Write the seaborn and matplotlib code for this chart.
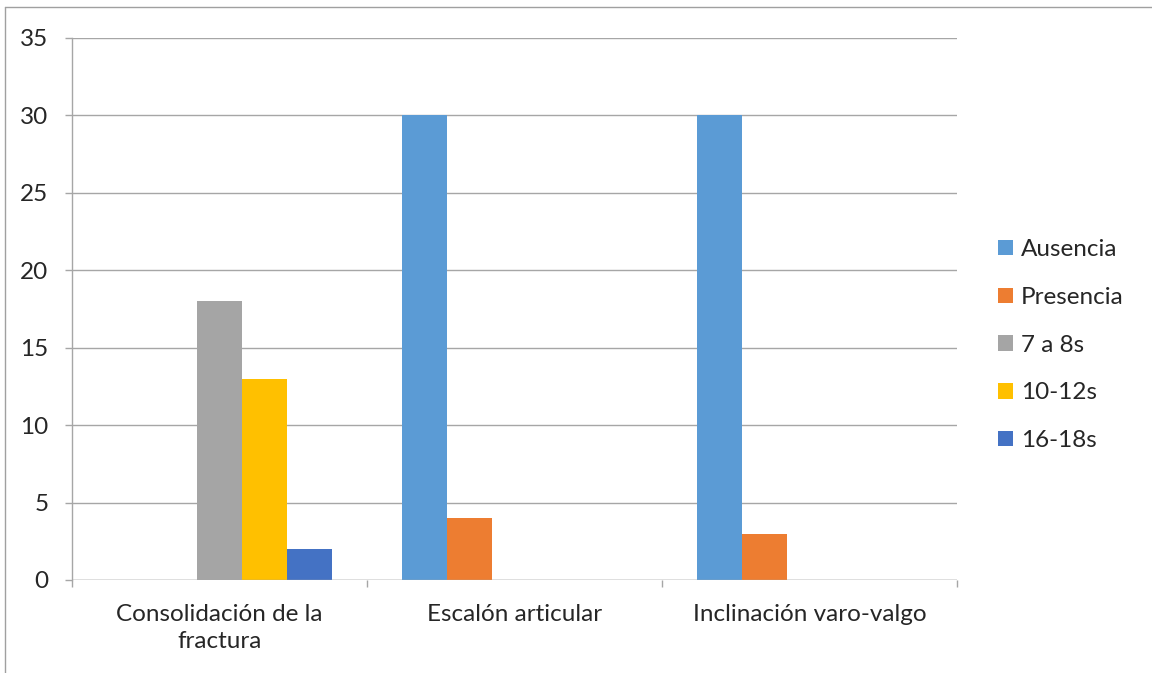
import matplotlib
matplotlib.use("Agg")
import matplotlib.pyplot as plt
import seaborn as sns
import pandas as pd
from matplotlib.lines import Line2D

categorias = ["Consolidación de la\nfractura", "Escalón articular", "Inclinación varo-valgo"]
series = ["Ausencia", "Presencia", "7 a 8s", "10-12s", "16-18s"]
ausencia = [0, 30, 30]
presencia = [0, 4, 3]
s7_8 = [18, 0, 0]
s10_12 = [13, 0, 0]
s16_18 = [2, 0, 0]
colores = ["#5B9BD5", "#ED7D31", "#A5A5A5", "#FFC000", "#4472C4"]

valores = [ausencia, presencia, s7_8, s10_12, s16_18]
filas = []
for nombre, vals in zip(series, valores):
    for cat, v in zip(categorias, vals):
        filas.append({"categoria": cat, "serie": nombre, "valor": v})
df = pd.DataFrame(filas)

sns.set_style("white")
plt.rcParams["font.family"] = ["Lato", "DejaVu Sans"]
fs = 17.5

fig = plt.figure(figsize=(11.52, 6.73), dpi=100)
ax = fig.add_axes([72 / 1152, 1 - 580 / 673, (957 - 72) / 1152, (580 - 38) / 673])

sns.barplot(data=df, x="categoria", y="valor", hue="serie", order=categorias,
            hue_order=series, palette=colores, width=0.763, linewidth=0,
            saturation=1, ax=ax, legend=True, zorder=3)

grid_col = "#A6A6A6"
ax.set_xlim(-0.5, 2.5)
ax.set_ylim(0, 35)
ax.set_yticks(range(0, 36, 5))
ax.yaxis.grid(True, color=grid_col, linewidth=1, zorder=0)
ax.set_axisbelow(True)
for s in ["top", "right", "bottom"]:
    ax.spines[s].set_visible(False)
ax.spines["left"].set_color(grid_col)
ax.spines["left"].set_linewidth(1)
ax.axhline(0, color=grid_col, linewidth=1, zorder=4)

ax.set_xticks(range(len(categorias)))
ax.set_xticklabels(categorias, fontsize=fs, linespacing=1.4)
ax.set_xticks([-0.5, 0.5, 1.5, 2.5], minor=True)
ax.tick_params(axis="x", which="major", length=0, pad=17)
ax.tick_params(axis="x", which="minor", length=5, color=grid_col, width=1, direction="out")
ax.tick_params(axis="y", length=5, color=grid_col, width=1, direction="out", labelsize=fs, pad=12)
ax.tick_params(left=True, bottom=True, which="both")
ax.set_xlabel("")
ax.set_ylabel("")

handles, labels = ax.get_legend_handles_labels()
ax.get_legend().remove()
fig.legend(handles, labels, loc="center left", bbox_to_anchor=(0.858, 0.487),
           frameon=False, fontsize=fs, handlelength=0.6, handleheight=0.6,
           handletextpad=0.35, labelspacing=1.1, borderaxespad=0)

# chart border (top and left visible)
fig.add_artist(Line2D([5 / 1152, 5 / 1152], [0, 1 - 7 / 673], color="#A0A0A0", linewidth=1,
                      transform=fig.transFigure))
fig.add_artist(Line2D([5 / 1152, 1], [1 - 7 / 673, 1 - 7 / 673], color="#A0A0A0", linewidth=1,
                      transform=fig.transFigure))

fig.savefig("out.png", dpi=100)
